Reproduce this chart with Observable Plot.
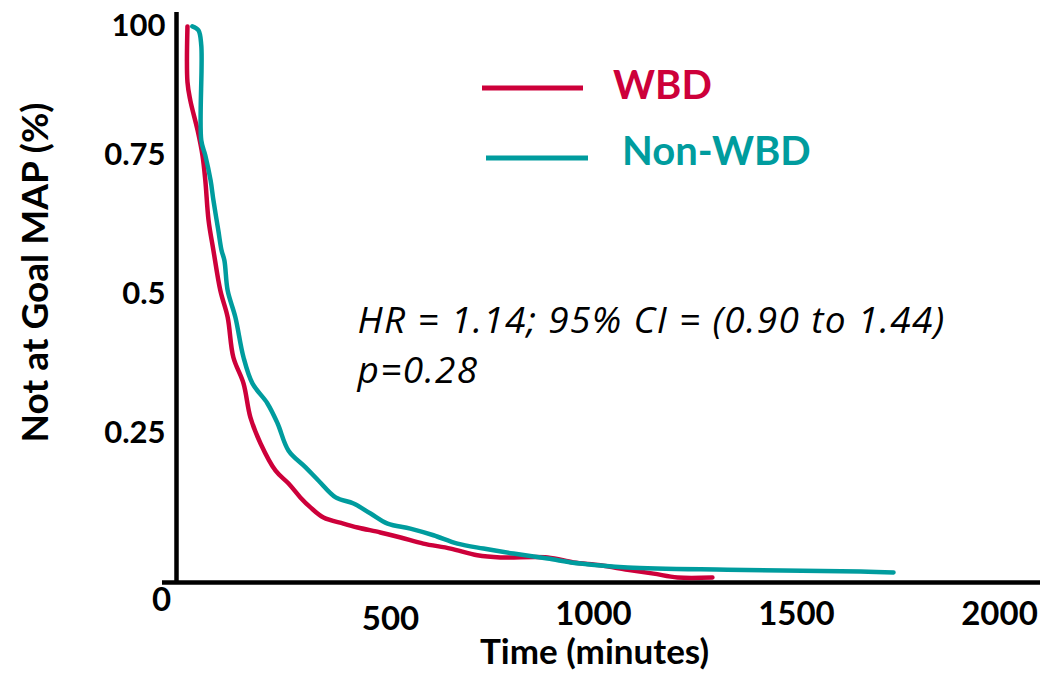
<!DOCTYPE html>
<html>
<head>
<meta charset="utf-8">
<script src="https://cdn.jsdelivr.net/npm/d3@7"></script>
<script src="https://cdn.jsdelivr.net/npm/@observablehq/plot@0.6"></script>
<style>
  body { margin: 0; background: #fff; }
  #chart { position: relative; width: 1045px; height: 673px; }
  .note text { letter-spacing: 1.35px; }
</style>
</head>
<body>
<div id="chart"></div>
<script>
// ---- Data ----
const seriesNames = ["WBD", "Non-WBD"];
const seriesColors = ["#cd003a", "#009c9e"];

const wbdTime = [0, 0, 7, 25, 37, 44, 52, 64, 81, 99, 113, 138, 155, 180, 217, 249, 278, 303, 335, 384, 419, 475, 525, 581, 648, 714, 771, 887, 951, 1017, 1084, 1148, 1207, 1293];
const wbdSurv = [1.0, 0.90, 0.867, 0.813, 0.768, 0.723, 0.651, 0.597, 0.525, 0.477, 0.405, 0.358, 0.297, 0.250, 0.201, 0.178, 0.153, 0.135, 0.117, 0.106, 0.099, 0.090, 0.081, 0.070, 0.061, 0.049, 0.045, 0.045, 0.036, 0.031, 0.023, 0.016, 0.009, 0.009];

const nonTime = [12, 27, 34, 34, 44, 57, 64, 76, 84, 91, 99, 118, 138, 160, 197, 222, 249, 291, 323, 365, 409, 451, 493, 549, 606, 665, 729, 803, 887, 968, 1084, 1330, 1658, 1739];
const nonSurv = [1.0, 0.993, 0.966, 0.795, 0.768, 0.723, 0.687, 0.633, 0.597, 0.579, 0.525, 0.477, 0.405, 0.358, 0.322, 0.286, 0.237, 0.207, 0.183, 0.153, 0.142, 0.124, 0.106, 0.097, 0.085, 0.070, 0.061, 0.052, 0.043, 0.034, 0.027, 0.023, 0.020, 0.018];

const xTicks = [500, 1000, 1500, 2000];
const yTicks = [1, 0.75, 0.5, 0.25];
const yTickLabels = ["100", "0.75", "0.5", "0.25"];
const originLabel = "0";
const annotationLines = ["HR = 1.14; 95% CI = (0.90 to 1.44)", "p=0.28"];
const xLabel = "Time (minutes)";
const yLabel = "Not at Goal MAP (%)";

// ---- Build table ----
const rows = [
  ...wbdTime.map((t, i) => ({series: seriesNames[0], t, s: wbdSurv[i]})),
  ...nonTime.map((t, i) => ({series: seriesNames[1], t, s: nonSurv[i]}))
];

const xDomain = [-27, 2101];
const yFmt = d => yTickLabels[yTicks.indexOf(d)];
const FONT = "Lato, 'Open Sans', sans-serif";
const NOTE_FONT = "'Open Sans', Lato, sans-serif";

const chart = Plot.plot({
  width: 1045,
  height: 673,
  marginLeft: 176,
  marginRight: 5,
  marginTop: 12,
  marginBottom: 91,
  x: {domain: xDomain},
  y: {domain: [0, 1.025]},
  color: {domain: seriesNames, range: seriesColors},
  style: {fontFamily: FONT, background: "white", color: "black", overflow: "visible"},
  marks: [
    Plot.ruleX([xDomain[0]], {stroke: "black", strokeWidth: 4.5, insetBottom: -2}),
    Plot.ruleY([0], {stroke: "black", strokeWidth: 4.5, insetLeft: -14}),
    Plot.line(rows, {x: "t", y: "s", z: "series", stroke: "series", strokeWidth: 4.5, strokeLinejoin: "round", curve: "catmull-rom"}),
    Plot.axisY([yTicks[0]], {tickSize: 0, tickPadding: 11, fontSize: 31, fontWeight: "bold", fill: "black", tickFormat: yFmt, label: null}),
    Plot.axisY(yTicks.slice(1), {tickSize: 0, tickPadding: 11, fontSize: 31, fontWeight: "bold", fill: "black", tickFormat: yFmt, label: null, dy: -10}),
    Plot.axisX([xTicks[0]], {tickSize: 0, tickPadding: 24, fontSize: 33, fontWeight: "bold", fill: "black", tickFormat: d => String(d), label: null}),
    Plot.axisX(xTicks.slice(1), {tickSize: 0, tickPadding: 19, fontSize: 33, fontWeight: "bold", fill: "black", tickFormat: d => String(d), label: null}),
    Plot.text([0], {x: d => d, y: d => d, text: () => originLabel, dx: -26, dy: 5, lineAnchor: "top", fontSize: 33, fontWeight: "bold", fill: "black"}),
    Plot.text([annotationLines[0]], {className: "note", frameAnchor: "top-left", text: d => d, dx: 181, dy: 320, textAnchor: "start", lineAnchor: "bottom", fontSize: 37, fontFamily: NOTE_FONT, fontStyle: "italic", fill: "black"}),
    Plot.text([annotationLines[1]], {className: "note", frameAnchor: "top-left", text: d => d, dx: 181, dy: 370, textAnchor: "start", lineAnchor: "bottom", fontSize: 37, fontFamily: NOTE_FONT, fontStyle: "italic", fill: "black"}),
    Plot.text([xLabel], {frameAnchor: "bottom", text: d => d, dx: -14, dy: 81, textAnchor: "middle", lineAnchor: "bottom", fontSize: 35, fontWeight: "bold", fill: "black"}),
    Plot.text([yLabel], {frameAnchor: "left", text: d => d, rotate: -90, dx: -140, dy: -25, textAnchor: "middle", lineAnchor: "middle", fontSize: 37, fontWeight: "bold", fill: "black"})
  ]
});

// ---- In-plot legend ----
const legendLayout = [
  {x1: 482, x2: 583, y: 88, tx: 613, ty: 99},
  {x1: 486, x2: 588, y: 158, tx: 622, ty: 165}
];
const svg = d3.select(chart);
svg.selectAll("g.note text").attr("letter-spacing", 1.35);
seriesNames.forEach((name, i) => {
  const L = legendLayout[i];
  svg.append("line")
    .attr("x1", L.x1).attr("x2", L.x2).attr("y1", L.y).attr("y2", L.y)
    .attr("stroke", seriesColors[i]).attr("stroke-width", 5);
  svg.append("text")
    .attr("x", L.tx).attr("y", L.ty)
    .attr("text-anchor", "start")
    .attr("fill", seriesColors[i])
    .attr("font-family", FONT)
    .attr("font-weight", "bold")
    .attr("font-size", 40)
    .text(name);
});

document.getElementById("chart").appendChild(chart);
</script>
</body>
</html>
